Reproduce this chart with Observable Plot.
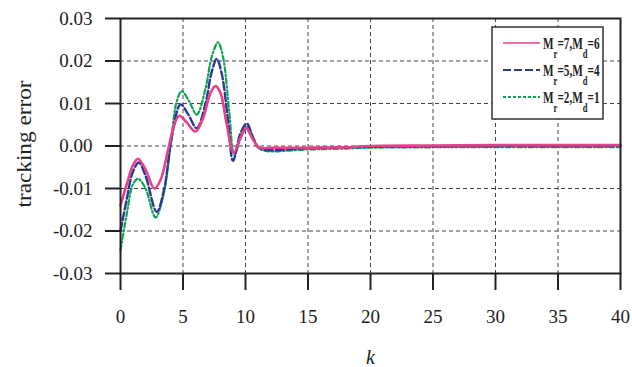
<!DOCTYPE html>
<html>
<head>
<meta charset="utf-8">
<script src="https://cdn.jsdelivr.net/npm/d3@7"></script>
<script src="https://cdn.jsdelivr.net/npm/@observablehq/plot@0.6"></script>
<style>
  html, body { margin: 0; padding: 0; background: #fff; }
  #chart { width: 632px; height: 367px; }
</style>
</head>
<body>
<div id="chart"></div>
<script>
// ---- data ----
const xTicks = [0, 5, 10, 15, 20, 25, 30, 35, 40];
const yTicks = [-0.03, -0.02, -0.01, 0.00, 0.01, 0.02, 0.03];
const xLabel = "k";
const yLabel = "tracking error";
const seriesNames = ["M_r=7,M_d=6", "M_r=5,M_d=4", "M_r=2,M_d=1"];
const seriesColors = ["#ea3f8d", "#2b3a8f", "#10a352"];

const kPink = [0, 0.5, 1.0, 1.4, 2.0, 2.7, 3.2, 3.8, 4.3, 4.7, 5.3, 6.0, 6.6, 7.2, 7.6, 8.0, 8.5, 9.05, 9.6, 10.05, 10.6, 11.1, 12, 15, 18, 20, 25, 30, 35, 40];
const vPink = [-0.014, -0.009, -0.0045, -0.003, -0.0055, -0.010, -0.008, -0.001, 0.005, 0.0071, 0.0055, 0.0034, 0.0065, 0.0125, 0.0141, 0.0125, 0.005, -0.0016, 0.002, 0.0042, 0.0015, -0.0004, -0.0004, -0.0004, -0.0003, 0.0, 0.0001, 0.0002, 0.0002, 0.0002];

const kBlue = [0, 0.5, 1.0, 1.47, 2.0, 2.9, 3.5, 4.1, 4.8, 5.4, 6.1, 6.8, 7.3, 7.7, 8.1, 8.6, 9.0, 9.6, 10.1, 10.6, 11.1, 15, 20, 30, 40];
const vBlue = [-0.020, -0.0125, -0.006, -0.0039, -0.007, -0.0155, -0.010, 0.002, 0.0098, 0.0075, 0.0042, 0.010, 0.0175, 0.0205, 0.017, 0.006, -0.0035, 0.003, 0.0053, 0.002, -0.0005, -0.0005, -0.0002, 0.0, 0.0];

const kGreen = [0, 0.5, 1.0, 1.4, 2.0, 2.8, 3.4, 4.0, 4.5, 4.9, 5.5, 6.1, 6.8, 7.3, 7.8, 8.2, 8.7, 9.1, 9.7, 10.15, 10.7, 11.2, 15, 18, 20, 25, 40];
const vGreen = [-0.0245, -0.016, -0.009, -0.0077, -0.010, -0.0168, -0.012, 0.000, 0.0105, 0.0129, 0.0105, 0.0074, 0.0135, 0.021, 0.0244, 0.021, 0.008, -0.002, 0.0025, 0.0045, 0.0015, -0.0008, -0.0008, -0.0006, -0.0004, -0.0003, -0.0003];

// ---- build ----
const toRows = (ks, vs) => ks.map((k, i) => ({k, v: vs[i]}));
const pink = toRows(kPink, vPink);
const blue = toRows(kBlue, vBlue);
const green = toRows(kGreen, vGreen);

const font = "'Liberation Serif', 'Times New Roman', serif";
const gridColor = "#444";

const chart = Plot.plot({
  width: 632,
  height: 367,
  marginLeft: 120,
  marginRight: 12,
  marginTop: 18,
  marginBottom: 94,
  style: {fontFamily: font, background: "#fff", color: "#222"},
  x: {domain: [0, 40], axis: null},
  y: {domain: [-0.03, 0.03], axis: null},
  marks: [
    Plot.ruleX(xTicks.slice(1, -1), {stroke: gridColor, strokeWidth: 1, strokeDasharray: "4,3"}),
    Plot.ruleY(yTicks.slice(1, -1), {stroke: gridColor, strokeWidth: 1, strokeDasharray: "4,3"}),
    Plot.line(green, {x: "k", y: "v", stroke: seriesColors[2], strokeWidth: 2.2, strokeDasharray: "5,2.5,1.5,2.5", curve: "catmull-rom"}),
    Plot.line(blue, {x: "k", y: "v", stroke: seriesColors[1], strokeWidth: 2.4, strokeDasharray: "8,3", curve: "catmull-rom"}),
    Plot.line(pink, {x: "k", y: "v", stroke: seriesColors[0], strokeWidth: 2.6, curve: "catmull-rom"}),
    Plot.frame({stroke: "#222", strokeWidth: 2}),
    Plot.axisX({ticks: xTicks, tickSize: 17, tickPadding: 19, tickFormat: d => String(d), fontSize: 19, label: null, stroke: "#222", strokeWidth: 2}),
    Plot.axisY({ticks: yTicks, tickSize: 15, tickPadding: 13, tickFormat: d => d.toFixed(2), fontSize: 19, label: null, stroke: "#222", strokeWidth: 2}),
    Plot.text([xLabel], {frameAnchor: "bottom", dy: 90, fontStyle: "italic", fontSize: 20, fill: "#222"}),
    Plot.text([yLabel], {frameAnchor: "left", dx: -96, dy: -2, rotate: -90, textAnchor: "middle", fontSize: 21, fill: "#222", className: "ylab"})
  ]
});
document.getElementById("chart").appendChild(chart);

const svg = d3.select(chart);
// stretch the y label like the reference
svg.selectAll(".ylab text").attr("textLength", 127).attr("lengthAdjust", "spacingAndGlyphs");

// ---- legend ----
const lg = svg.append("g").attr("font-family", font).attr("text-anchor", "start");
lg.append("rect").attr("x", 492).attr("y", 27).attr("width", 111).attr("height", 92)
  .attr("fill", "#fff").attr("stroke", "#333").attr("stroke-width", 1.5);
const dashes = [null, "8,3", "3,2"];
const widths = [1.5, 1.8, 1.8];
seriesNames.forEach((name, i) => {
  const y = 43 + i * 27;
  lg.append("line").attr("x1", 503).attr("x2", 540).attr("y1", y).attr("y2", y)
    .attr("stroke", seriesColors[i]).attr("stroke-width", widths[i])
    .attr("stroke-dasharray", dashes[i]);
  const m = name.match(/M_(\w)=(\d),M_(\w)=(\d)/);
  const g = lg.append("g").attr("transform", `translate(543,${y + 6}) scale(0.66,1)`);
  const t = g.append("text").attr("x", 0).attr("y", 0).attr("text-anchor", "start")
    .attr("font-size", 17).attr("font-weight", "bold").attr("fill", "#222");
  t.append("tspan").text("M");
  t.append("tspan").attr("dy", 9).attr("font-size", 13).text(m[1]);
  t.append("tspan").attr("dy", -9).text("=" + m[2] + ",M");
  t.append("tspan").attr("dy", 9).attr("font-size", 13).text(m[3]);
  t.append("tspan").attr("dy", -9).text("=" + m[4]);
});
</script>
</body>
</html>
